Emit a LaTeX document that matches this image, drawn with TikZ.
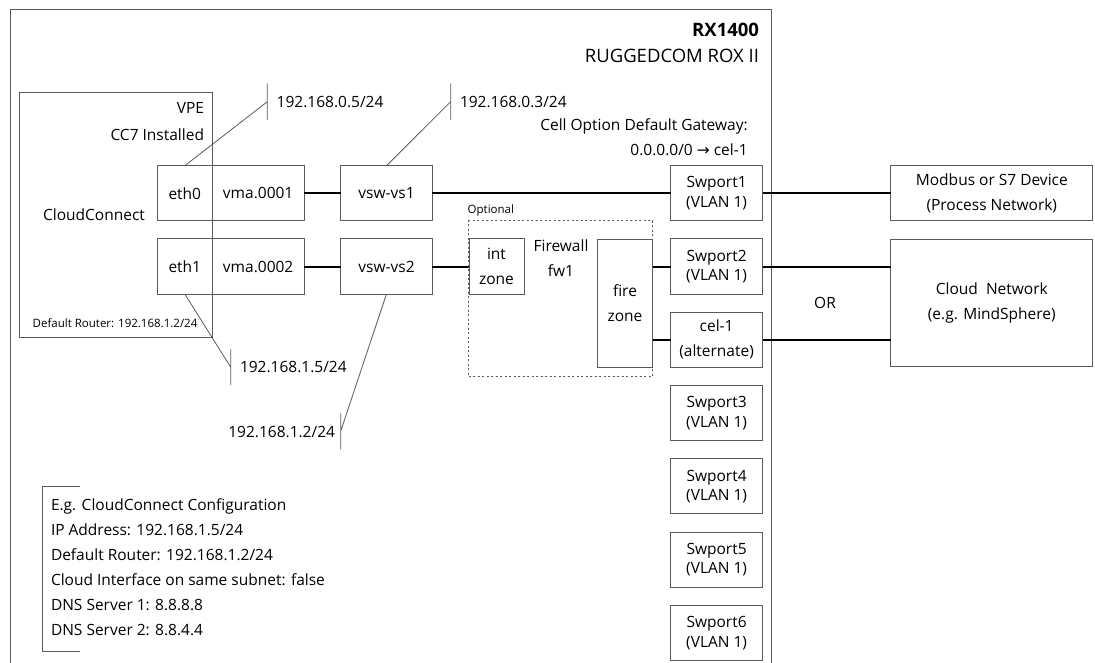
\documentclass[tikz,border=0pt]{standalone}
\usepackage{fontspec}
\setmainfont{Open Sans}
\newfontfamily\arrowfont{DejaVu Sans}
\usepackage{tikz}
\usetikzlibrary{positioning}
\definecolor{boxline}{RGB}{90,90,90}

\begin{document}
\begin{tikzpicture}[x=1pt, y=-1pt,
	every node/.style={inner sep=0pt, outer sep=0pt, align=center, font=\fontsize{15.5}{25}\selectfont},
	box/.style={draw=boxline, line width=1pt, minimum height=55pt},
	port/.style={box, minimum width=91.8pt, font=\fontsize{15.5}{19.5}\selectfont},
	wire/.style={black, line width=2pt},
	callout/.style={boxline, line width=0.8pt},
	smalltext/.style={font=\fontsize{11.5}{14}\selectfont}]
	\useasboundingbox (0,0) rectangle (1095,663);
	% router frame, open at the bottom
	\draw[boxline, line width=1pt] (10,663) |- (771.7,9.3) -- (771.7,663);
	\node[anchor=east, font=\fontsize{18.5}{24}\selectfont\bfseries] (rxname) at (759,30) {RX1400};
	\node[anchor=east, font=\fontsize{18.5}{24}\selectfont] (rxos) at (759,56) {RUGGEDCOM ROX II};
	\node[anchor=east, align=right] (gw) at (747.7,137) {Cell Option Default Gateway:\\0.0.0.0/0 {\arrowfont →} cel-1};

	% VPE with CloudConnect
	\node[box, minimum width=193pt, minimum height=245.4pt] (vpe) at (115.8,215) {};
	\node[anchor=east, align=right, font=\fontsize{15.5}{26.7}\selectfont] (vpename) at (204,121.5) {VPE\\CC7 Installed};
	\node (cc) at (94,214.3) {CloudConnect};
	\node[smalltext, anchor=west] (vperouter) at (32.7,323) {Default Router: 192.168.1.2/24};
	\node[box, minimum width=55pt] (eth0) at (184.8,193.2) {eth0};
	\node[box, minimum width=91.7pt, right=0pt of eth0] (vma0) {vma.0001};
	\node[box, minimum width=55pt] (eth1) at (184.8,266.5) {eth1};
	\node[box, minimum width=91.7pt, right=0pt of eth1] (vma1) {vma.0002};

	% virtual switches
	\node[box, minimum width=91.6pt] (vsw1) at (386.5,193.2) {vsw-vs1};
	\node[box, minimum width=91.6pt] (vsw2) at (386.5,266.5) {vsw-vs2};

	% firewall
	\node[draw=boxline, line width=1pt, dash pattern=on 2pt off 2.5pt, minimum width=183.7pt, minimum height=155.7pt] (fw) at (560.8,298.8) {};
	\node[smalltext, anchor=west] (fwopt) at (467.7,211) {Optional};
	\node[box, minimum width=55pt] (intz) at (496.5,266.5) {int\\zone};
	\node (fwname) at (561,258.2) {Firewall\\fw1};
	\node[box, minimum width=55.4pt, minimum height=128.3pt] (firez) at (625,303.2) {fire\\zone};

	% ports
	\node[port] (swport1) at (716.6,193.2) {Swport1\\(VLAN 1)};
	\node[port] (swport2) at (716.6,266.5) {Swport2\\(VLAN 1)};
	\node[port, font=\fontsize{15.5}{25}\selectfont] (cel1) at (716.6,339.8) {cel-1\\(alternate)};
	\foreach \n [count=\k] in {3,...,6}
		\node[port] (swport\n) at (716.6,{339.8+73.3*\k}) {Swport\n\\(VLAN 1)};

	% outside the router
	\node[box, minimum width=201.7pt] (modbus) at (991.8,193.2) {Modbus or S7 Device\\(Process Network)};
	\node[box, minimum width=201.7pt, minimum height=127.7pt] (cloud) at (991.8,302.9) {Cloud\ \ Network\\(e.g. MindSphere)};
	\node (or) at (825,302.7) {OR};

	% links
	\draw[wire] (vma0) -- (vsw1);
	\draw[wire] (vsw1) -- (swport1);
	\draw[wire] (swport1) -- (modbus);
	\draw[wire] (vma1) -- (vsw2);
	\draw[wire] (vsw2) -- (intz);
	\draw[wire] (swport2.west -| firez.east) -- (swport2.west);
	\draw[wire] (cel1.west -| firez.east) -- (cel1.west);
	\draw[wire] (swport2.east) -- (swport2.east -| cloud.west);
	\draw[wire] (cel1.east) -- (cel1.east -| cloud.west);

	% address callouts
	\node[anchor=west] (ip05) at (276.7,101.7) {192.168.0.5/24};
	\coordinate (t05) at (267.3,101.7);
	\draw[callout] (eth0.north) -- (t05) ++(0,-18.3) -- ++(0,36.6);
	\node[anchor=west] (ip03) at (460,101.7) {192.168.0.3/24};
	\coordinate (t03) at (450.7,101.7);
	\draw[callout] (vsw1.north) -- (t03) ++(0,-18.3) -- ++(0,36.6);
	\node[anchor=west] (ip15) at (240,366.7) {192.168.1.5/24};
	\coordinate (t15) at (230.7,367.2);
	\draw[callout] (eth1.south) -- (t15) ++(0,-17.8) -- ++(0,35.6);
	\node[anchor=east] (ip12) at (335,431.7) {192.168.1.2/24};
	\coordinate (t12) at (340.7,431.3);
	\draw[callout] (vsw2.south) -- (t12) ++(0,-18) -- ++(0,36);

	% example configuration
	\draw[boxline, line width=1pt] (80,486.7) -| (42.7,651) -- (80,651);
	\node[anchor=west, align=left] (cfg) at (51,567.5) {E.g. CloudConnect Configuration\\IP Address: 192.168.1.5/24\\Default Router: 192.168.1.2/24\\Cloud Interface on same subnet: false\\DNS Server 1: 8.8.8.8\\DNS Server 2: 8.8.4.4};
\end{tikzpicture}
\end{document}
